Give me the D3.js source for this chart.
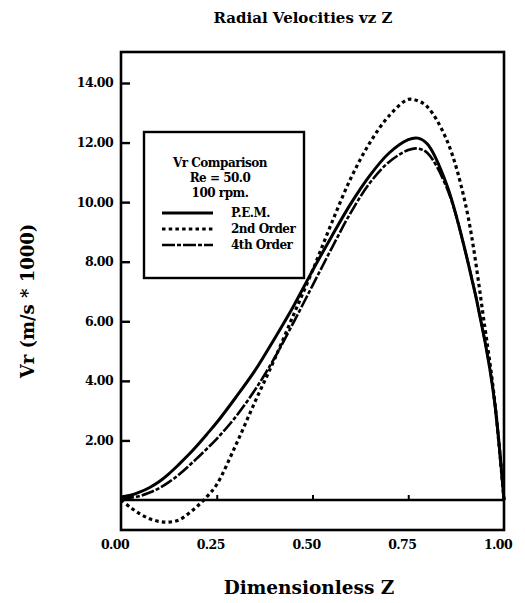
<!DOCTYPE html>
<html>
<head>
<meta charset="utf-8">
<script src="https://cdn.jsdelivr.net/npm/d3@7/dist/d3.min.js"></script>
<style>
  html, body { margin: 0; padding: 0; background: #fff; }
  svg { display: block; }
  text { font-family: "DejaVu Serif", "Liberation Serif", serif; font-weight: bold; fill: #000; }
</style>
</head>
<body>
<svg id="chart" width="525" height="603"></svg>
<script>
// Dimensionless axial position
const zValues = [0, 0.025, 0.05, 0.075, 0.1, 0.125, 0.15, 0.175, 0.2, 0.225, 0.25, 0.3, 0.35, 0.4, 0.45, 0.5,
                 0.55, 0.6, 0.65, 0.7, 0.75, 0.775, 0.8, 0.85, 0.9, 0.95, 0.975, 1.0];
// Radial velocity Vr (m/s * 1000) for each model
const femValues    = [0.1, 0.16, 0.27, 0.42, 0.62, 0.88, 1.18, 1.5, 1.85, 2.22, 2.6, 3.45, 4.35, 5.4, 6.5, 7.7,
                      8.85, 9.95, 10.9, 11.65, 12.1, 12.15, 11.95, 10.6, 8.3, 5.35, 3.35, 0.0];
const order2Values = [0.0, -0.25, -0.47, -0.63, -0.72, -0.74, -0.68, -0.47, -0.2, 0.12, 0.52, 1.85, 3.3, 4.7, 6.2, 7.7,
                      9.3, 10.8, 12.0, 12.9, 13.45, 13.4, 13.2, 12.1, 9.9, 5.8, 3.4, 0.0];
const order4Values = [0.05, 0.08, 0.14, 0.25, 0.4, 0.6, 0.84, 1.12, 1.42, 1.73, 2.05, 2.8, 3.7, 4.75, 5.95, 7.2,
                      8.45, 9.65, 10.65, 11.35, 11.75, 11.8, 11.65, 10.5, 8.3, 5.35, 3.35, 0.0];

const xTicks = [0, 0.25, 0.5, 0.75, 1.0];
const yTicks = [2, 4, 6, 8, 10, 12, 14];
const legendTitle = ["Vr Comparison", "Re = 50.0", "100 rpm."];
const seriesNames = ["P.E.M.", "2nd Order", "4th Order"];

const svg = d3.select("#chart");

const x = d3.scaleLinear().domain([0, 1]).range([121, 504]);
const y = d3.scaleLinear().domain([0, 14]).range([500, 83]);
const yBottom = 530, yTop = 52;

// Plot frame
svg.append("rect")
  .attr("x", x(0)).attr("y", yTop)
  .attr("width", x(1) - x(0)).attr("height", yBottom - yTop)
  .attr("fill", "none").attr("stroke", "#000").attr("stroke-width", 2.6);

// Zero line
svg.append("line")
  .attr("x1", x(0)).attr("x2", x(1)).attr("y1", y(0)).attr("y2", y(0))
  .attr("stroke", "#000").attr("stroke-width", 2.6);

// Y axis: inward ticks on the left edge
const yAxis = d3.axisRight(y).tickValues(yTicks).tickSize(9).tickFormat("");
const gy = svg.append("g").attr("transform", `translate(${x(0)},0)`).call(yAxis);
gy.select(".domain").remove();
gy.selectAll(".tick line").attr("stroke", "#000").attr("stroke-width", 2.4);

svg.append("g").selectAll("text").data(yTicks).join("text")
  .attr("x", 113).attr("y", d => y(d)).attr("dy", "0.35em")
  .attr("text-anchor", "end").attr("font-size", 12.5)
  .attr("letter-spacing", -0.6)
  .text(d => d.toFixed(2));

// X axis: small upward ticks on the zero line
const xAxis = d3.axisTop(x).tickValues(xTicks.slice(1, 4)).tickSize(5).tickFormat("");
const gx = svg.append("g").attr("transform", `translate(0,${y(0)})`).call(xAxis);
gx.select(".domain").remove();
gx.selectAll(".tick line").attr("stroke", "#000").attr("stroke-width", 2);

svg.append("g").selectAll("text").data(xTicks).join("text")
  .attr("x", d => x(d) - 6).attr("y", 545).attr("dy", "0.35em")
  .attr("text-anchor", "middle").attr("font-size", 12.5)
  .attr("letter-spacing", -0.6)
  .text(d => d.toFixed(2));

// Curves
const line = d3.line()
  .x((d, i) => x(zValues[i]))
  .y(d => y(d))
  .curve(d3.curveCatmullRom.alpha(0.5));

const styles = [
  { values: femValues,    dash: null,        width: 3.0 },
  { values: order2Values, dash: "3.5,3.2",   width: 3.2 },
  { values: order4Values, dash: "13,2,4,2",  width: 2.6 }
];

styles.forEach(s => {
  svg.append("path")
    .attr("d", line(s.values))
    .attr("fill", "none").attr("stroke", "#000")
    .attr("stroke-width", s.width)
    .attr("stroke-dasharray", s.dash);
});

// Legend
const lg = svg.append("g");
lg.append("rect")
  .attr("x", 144).attr("y", 132).attr("width", 160).attr("height", 146)
  .attr("fill", "#fff").attr("stroke", "#000").attr("stroke-width", 2.4);

lg.selectAll("text.head").data(legendTitle).join("text")
  .attr("class", "head")
  .attr("x", 220).attr("y", (d, i) => 163 + i * 15).attr("dy", "0.35em")
  .attr("text-anchor", "middle").attr("font-size", 12)
  .attr("letter-spacing", -0.5)
  .text(d => d);

seriesNames.forEach((name, i) => {
  const yy = 213 + i * 16;
  lg.append("line")
    .attr("x1", 162).attr("x2", 213).attr("y1", yy).attr("y2", yy)
    .attr("stroke", "#000").attr("stroke-width", styles[i].width)
    .attr("stroke-dasharray", styles[i].dash);
  lg.append("text")
    .attr("x", 231).attr("y", yy).attr("dy", "0.35em")
    .attr("font-size", 12).attr("letter-spacing", -0.5).text(name);
});

// Titles
svg.append("text")
  .attr("x", 303).attr("y", 18).attr("dy", "0.35em")
  .attr("text-anchor", "middle").attr("font-size", 15)
  .text("Radial Velocities vz Z");

svg.append("text")
  .attr("x", 309).attr("y", 588).attr("dy", "0.35em")
  .attr("text-anchor", "middle").attr("font-size", 18.5)
  .text("Dimensionless Z");

svg.append("text")
  .attr("transform", "translate(28,301) rotate(-90)")
  .attr("dy", "0.35em")
  .attr("text-anchor", "middle").attr("font-size", 18)
  .text("Vr (m/s * 1000)");
</script>
</body>
</html>
